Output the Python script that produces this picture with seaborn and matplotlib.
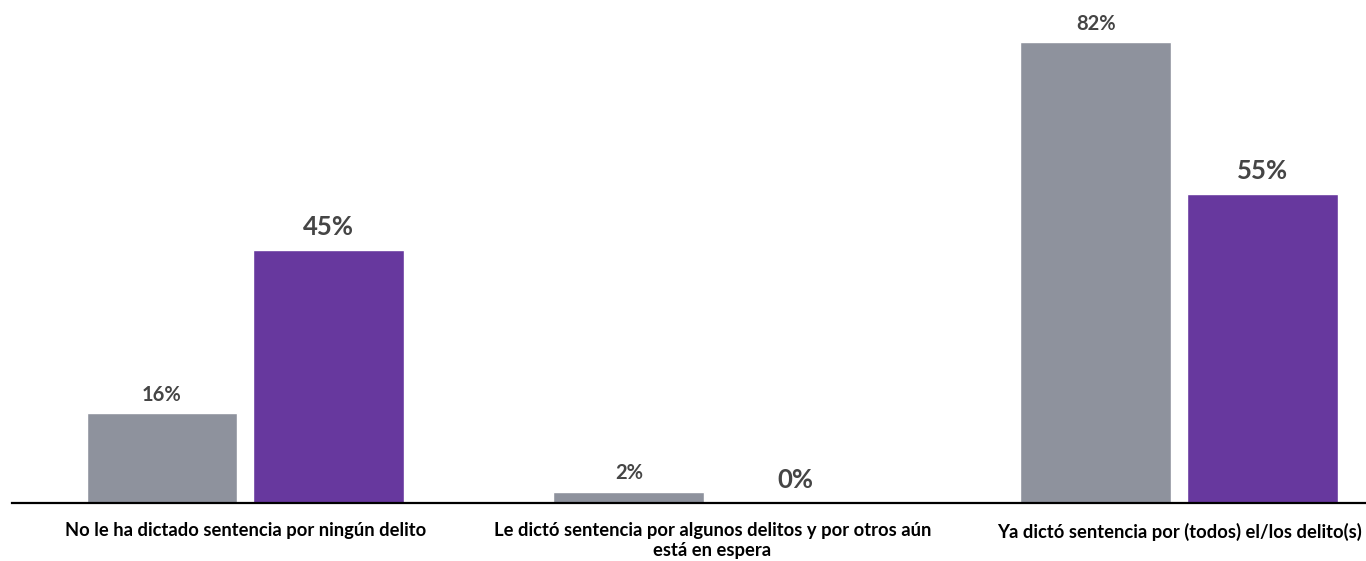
import matplotlib
matplotlib.use("Agg")
import matplotlib.pyplot as plt
import seaborn as sns
import pandas as pd

categories = [
    "No le ha dictado sentencia por ningún delito",
    "Le dictó sentencia por algunos delitos y por otros aún\nestá en espera",
    "Ya dictó sentencia por (todos) el/los delito(s)",
]
series_names = ["Serie A", "Serie B"]
values_a = [16, 2, 82]
values_b = [45, 0, 55]
colors = ["#8E929D", "#67389E"]

df = pd.DataFrame({
    "categoria": categories * 2,
    "serie": [series_names[0]] * 3 + [series_names[1]] * 3,
    "valor": values_a + values_b,
})

sns.set_theme(style="white")
plt.rcParams["font.family"] = ["Lato", "DejaVu Sans"]

fig = plt.figure(figsize=(13.66, 5.61), dpi=100)
ax = fig.add_axes([12 / 1366, (561 - 503) / 561, 1 - 12 / 1366, 503 / 561])

sns.barplot(data=df, x="categoria", y="valor", hue="serie", palette=colors,
            width=0.715, gap=0.096, saturation=1, legend=False, ax=ax)

ax.set_xlim(-0.5, 2.4)
ax.set_ylim(0, 89.5)
ax.set_xlabel("")
ax.set_ylabel("")
ax.set_yticks([])
for s in ["left", "right", "top"]:
    ax.spines[s].set_visible(False)
ax.spines["bottom"].set_color("black")
ax.spines["bottom"].set_linewidth(1.6)
ax.tick_params(axis="x", length=0, pad=14)
for lbl in ax.get_xticklabels():
    lbl.set_fontsize(13.2)
    lbl.set_fontweight("bold")
    lbl.set_color("black")
    lbl.set_linespacing(1.15)

styles = [(14.5, "bold", 6), (18.5, "bold", 8)]
for cont, (fs, fw, pad) in zip(ax.containers, styles):
    ax.bar_label(cont, labels=[f"{int(v)}%" for v in cont.datavalues],
                 padding=pad, fontsize=fs, color="#454545", fontweight=fw)

fig.savefig("out.png", dpi=100)
